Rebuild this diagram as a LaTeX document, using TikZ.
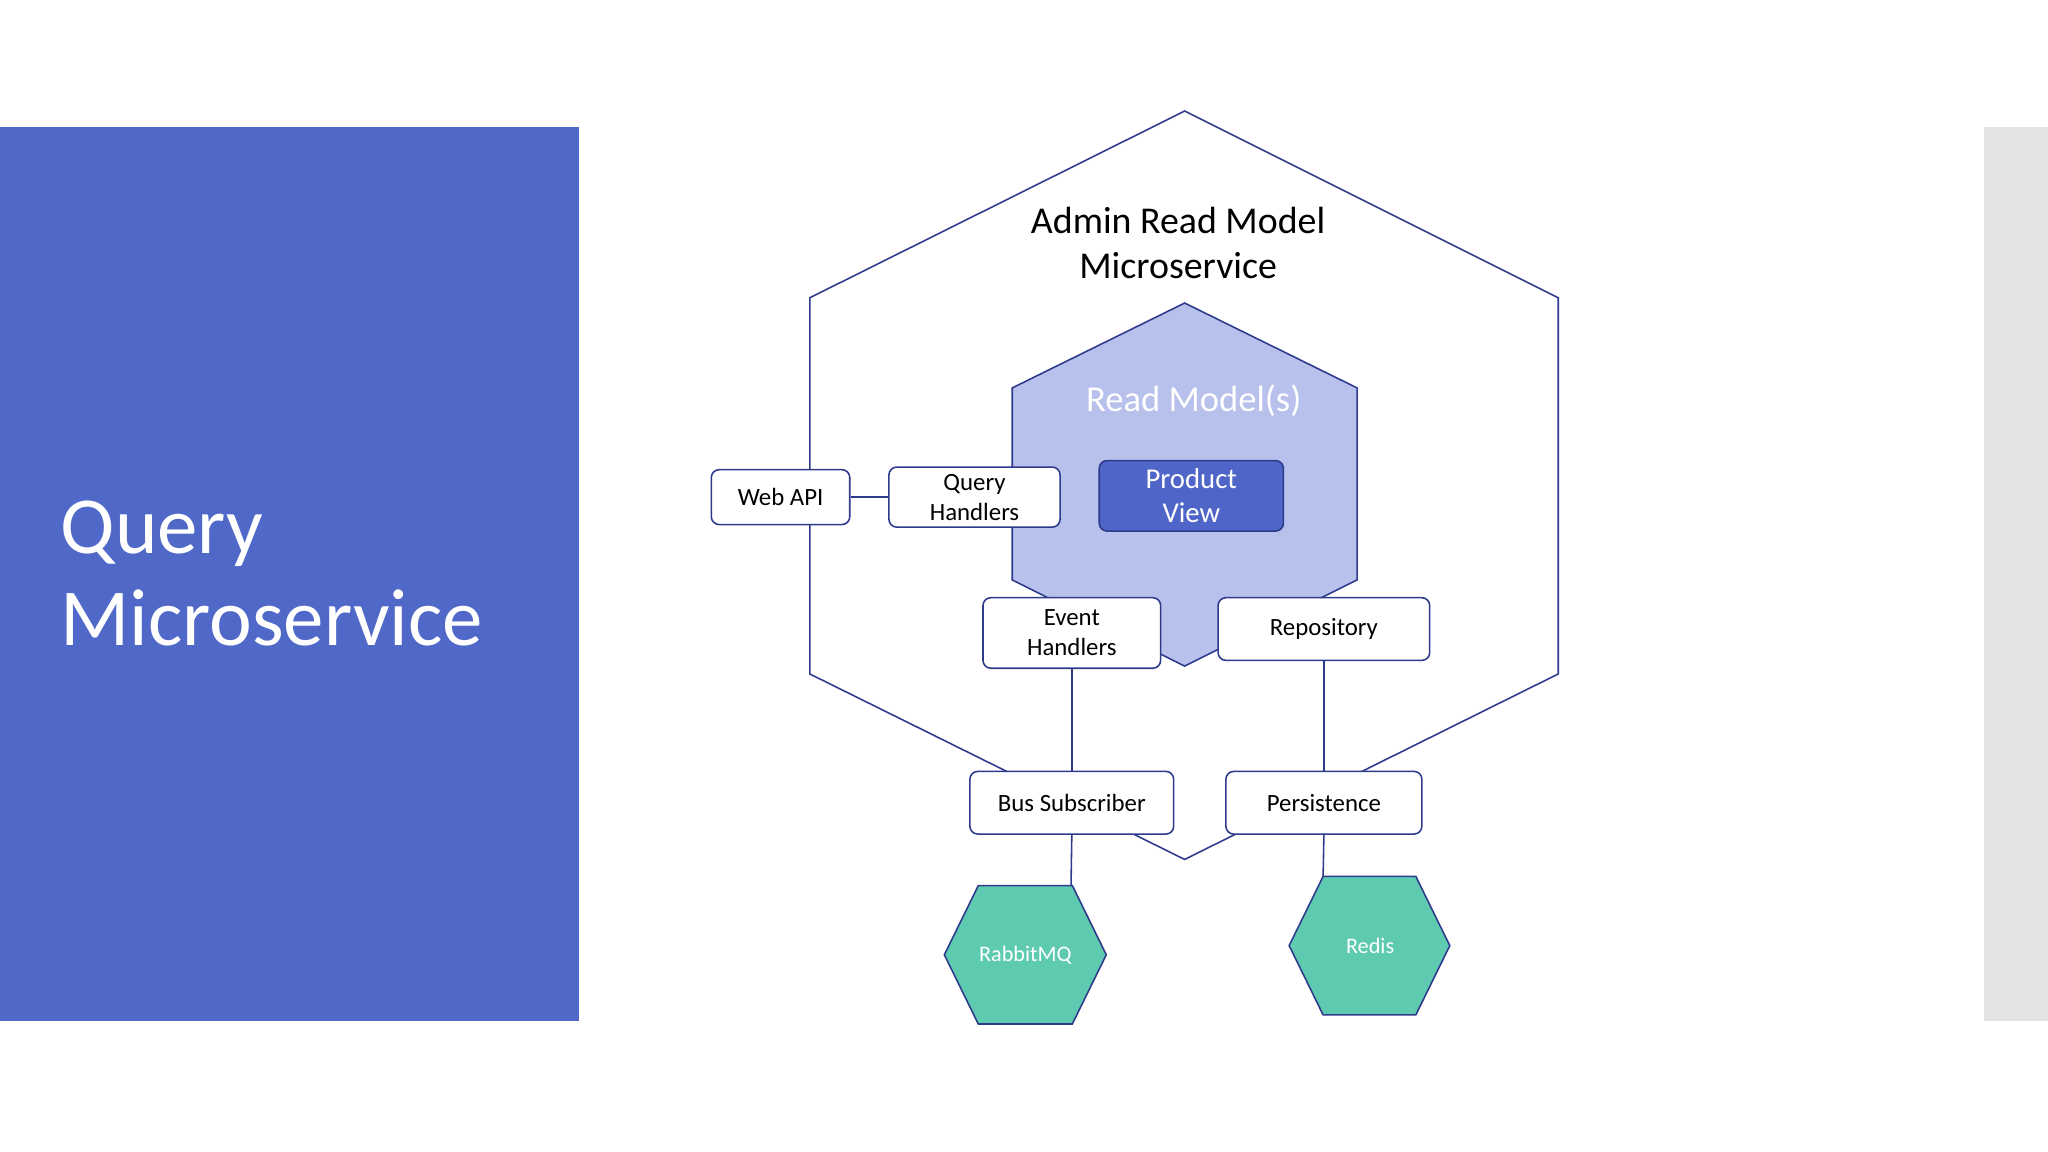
\documentclass[tikz,border=0pt]{standalone}
\usepackage{fontspec}
\setmainfont{Carlito}
\begin{document}
\begin{tikzpicture}[x=0.5pt,y=-0.5pt,
  ln/.style={draw=hexline,line width=0.6pt},
  box/.style={ln,fill=white,rounded corners=3pt,align=center,font=\fontsize{9.5}{11.5}\selectfont,inner sep=0pt,anchor=north west},
  hx/.style={ln,fill=teal2}]
\definecolor{hexline}{HTML}{2E3A8C}
\definecolor{leftblue}{HTML}{5068C8}
\definecolor{inner}{HTML}{B8C0EC}
\definecolor{teal2}{HTML}{5ECBB0}
\definecolor{pv}{HTML}{4F66C8}
\useasboundingbox (0,0) rectangle (1568,882);
\fill[leftblue] (0,97) rectangle (443,782);
\fill[black!11] (1519,97) rectangle (1568,782);
\node[text=white,align=left,anchor=west,inner sep=0pt,font=\fontsize{31}{35}\selectfont] (title) at (46,439) {Query\\Microservice};
% outer hexagon
\draw[ln] (907,85) -- (1193,228) -- (1193,516) -- (907,658) -- (620,516) -- (620,228) -- cycle;
\node[align=center,font=\fontsize{14.5}{17.5}\selectfont] (adm) at (902,186) {Admin Read Model\\Microservice};
% inner
\draw[ln,fill=inner] (907,232) -- (1039,297) -- (1039,444) -- (907,510) -- (775,444) -- (775,297) -- cycle;
\node[text=white,font=\fontsize{14}{17}\selectfont] (rm) at (914,307) {Read Model(s)};
% boxes
\node[box,minimum width=53pt,minimum height=21pt] (web) at (544,359) {Web API};
\node[box,minimum width=65.5pt,minimum height=23pt] (qh) at (680,357) {Query\\Handlers};
\node[box,fill=pv,text=white,minimum width=70.5pt,minimum height=27pt,font=\fontsize{11}{13}\selectfont] (pvw) at (841,352) {Product\\View};
\node[box,minimum width=68pt,minimum height=27pt] (eh) at (752,457) {Event\\Handlers};
\node[box,minimum width=81pt,minimum height=24pt] (rep) at (932,457) {Repository};
\node[box,minimum width=78pt,minimum height=24pt] (bus) at (742,590) {Bus Subscriber};
\node[box,minimum width=75pt,minimum height=24pt] (per) at (938,590) {Persistence};
% hexes
\draw[hx] (749,678) -- (821,678) -- (847,731) -- (821,784) -- (749,784) -- (723,731) -- cycle;
\node[text=white,font=\fontsize{8.5}{10}\selectfont] (rmq) at (785,731) {RabbitMQ};
\draw[hx] (1013,671) -- (1084,671) -- (1110,724) -- (1084,777) -- (1013,777) -- (987,724) -- cycle;
\node[text=white,font=\fontsize{8.5}{10}\selectfont] (red) at (1049,724) {Redis};
\coordinate (rmqt) at (820,678);
\coordinate (redt) at (1013,671);
% connectors
\draw[ln] (web.east) -- (qh.west);
\draw[ln] (eh.south) -- (bus.north);
\draw[ln] (rep.south) -- (per.north);
\draw[ln] (bus.south) -- (rmqt);
\draw[ln] (per.south) -- (redt);
\end{tikzpicture}
\end{document}
